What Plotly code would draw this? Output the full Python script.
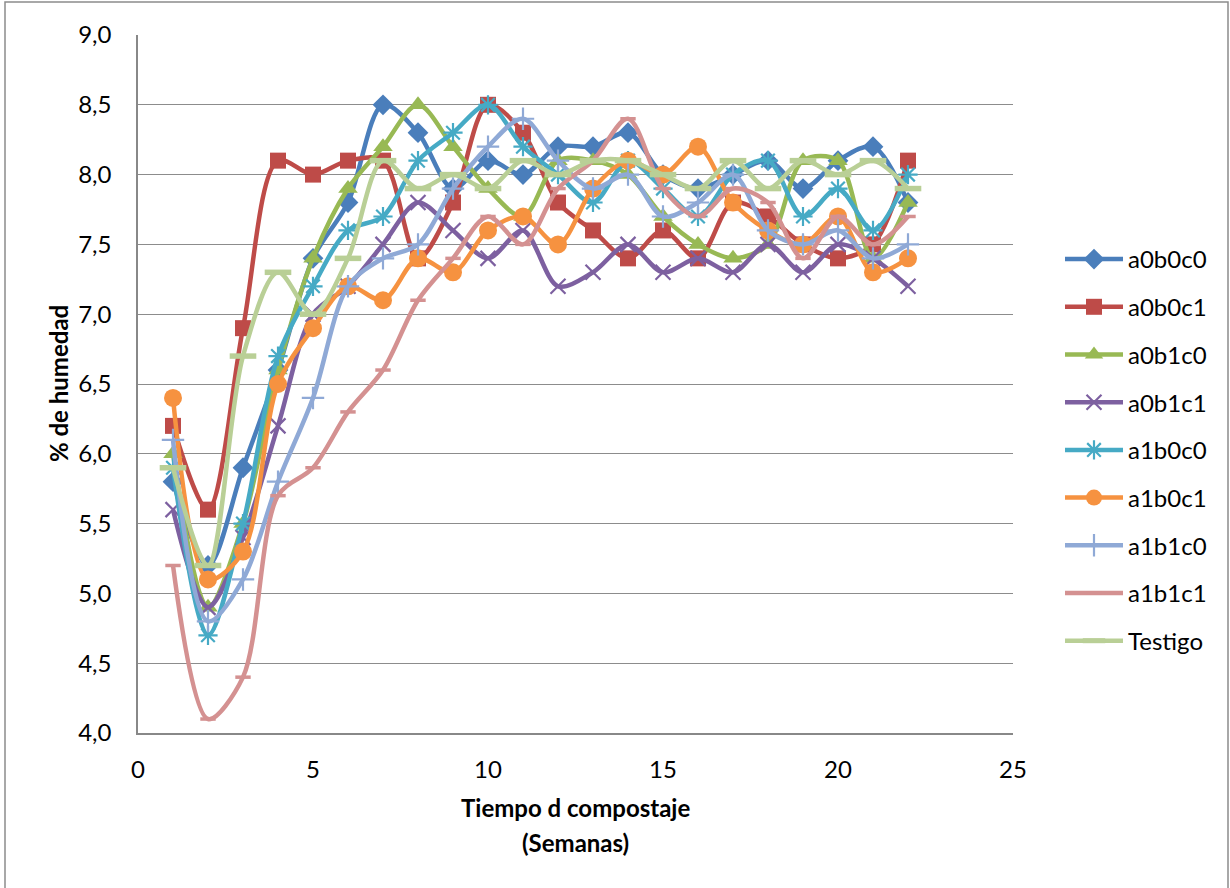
import plotly.graph_objects as go

weeks = list(range(1, 23))

a0b0c0 = [5.8, 5.2, 5.9, 6.6, 7.4, 7.8, 8.5, 8.3, 7.9, 8.1, 8.0, 8.2, 8.2, 8.3, 8.0, 7.9, 8.0, 8.1, 7.9, 8.1, 8.2, 7.8]
a0b0c1 = [6.2, 5.6, 6.9, 8.1, 8.0, 8.1, 8.1, 7.4, 7.8, 8.5, 8.3, 7.8, 7.6, 7.4, 7.6, 7.4, 7.8, 7.7, 7.5, 7.4, 7.5, 8.1]
a0b1c0 = [6.0, 4.9, 5.5, 6.6, 7.4, 7.9, 8.2, 8.5, 8.2, 7.9, 7.7, 8.1, 8.1, 8.0, 7.7, 7.5, 7.4, 7.5, 8.1, 8.1, 7.4, 7.8]
a0b1c1 = [5.6, 4.9, 5.4, 6.2, 7.0, 7.2, 7.5, 7.8, 7.6, 7.4, 7.6, 7.2, 7.3, 7.5, 7.3, 7.4, 7.3, 7.5, 7.3, 7.5, 7.4, 7.2]
a1b0c0 = [5.9, 4.7, 5.5, 6.7, 7.2, 7.6, 7.7, 8.1, 8.3, 8.5, 8.2, 8.0, 7.8, 8.1, 7.9, 7.7, 8.0, 8.1, 7.7, 7.9, 7.6, 8.0]
a1b0c1 = [6.4, 5.1, 5.3, 6.5, 6.9, 7.2, 7.1, 7.4, 7.3, 7.6, 7.7, 7.5, 7.9, 8.1, 8.0, 8.2, 7.8, 7.6, 7.5, 7.7, 7.3, 7.4]
a1b1c0 = [6.1, 4.8, 5.1, 5.8, 6.4, 7.2, 7.4, 7.5, 7.9, 8.2, 8.4, 8.1, 7.9, 8.0, 7.7, 7.8, 8.0, 7.6, 7.5, 7.6, 7.4, 7.5]
a1b1c1 = [5.2, 4.1, 4.4, 5.7, 5.9, 6.3, 6.6, 7.1, 7.4, 7.7, 7.5, 7.9, 8.1, 8.4, 7.9, 7.7, 7.9, 7.8, 7.4, 7.7, 7.5, 7.7]
testigo = [5.9, 5.2, 6.7, 7.3, 7.0, 7.4, 8.1, 7.9, 8.0, 7.9, 8.1, 8.0, 8.1, 8.1, 8.0, 7.9, 8.1, 7.9, 8.1, 8.0, 8.1, 7.9]

names = ["a0b0c0", "a0b0c1", "a0b1c0", "a0b1c1", "a1b0c0", "a1b0c1", "a1b1c0", "a1b1c1", "Testigo"]
series = [a0b0c0, a0b0c1, a0b1c0, a0b1c1, a1b0c0, a1b0c1, a1b1c0, a1b1c1, testigo]
colors = ["#4A7EBB", "#BE4B48", "#98B954", "#7D60A0", "#46AAC5", "#F69240", "#8FA9D6", "#D49191", "#B9CF96"]
markers = [
    dict(symbol="diamond", size=16),
    dict(symbol="square", size=16),
    dict(symbol="triangle-up", size=17),
    dict(symbol="x-thin-open", size=15, line=dict(width=2.2)),
    dict(symbol="asterisk-open", size=16, line=dict(width=2.2)),
    dict(symbol="circle", size=18),
    dict(symbol="cross-thin-open", size=16, line=dict(width=2.2)),
    dict(symbol="line-ew-open", size=11, line=dict(width=3.5)),
    dict(symbol="line-ew-open", size=19, line=dict(width=5.5)),
]

FONT = "Lato, 'Open Sans', sans-serif"
FS = 24

fig = go.Figure()
for n, ys, c, m in zip(names, series, colors, markers):
    mk = dict(m)
    mk["color"] = c
    if "line" in mk:
        mk["line"] = dict(mk["line"], color=c)
    fig.add_trace(go.Scatter(
        x=weeks, y=ys, name=n, mode="lines+markers",
        line=dict(color=c, width=4.5, shape="spline", smoothing=0.9),
        marker=mk, legendgroup=n,
    ))

L, R, T, B = 138, 1013, 35, 733
W, H = 1230, 888
pw, ph = R - L, B - T

def px(x):
    return (x - L) / pw

def py(y):
    return (B - y) / ph

fig.update_layout(
    width=W, height=H,
    margin=dict(l=L, r=W - R, t=T, b=H - B),
    paper_bgcolor="white", plot_bgcolor="white",
    separators=",.",
    font=dict(family=FONT, size=FS, color="black"),
    showlegend=True,
    legend=dict(
        x=px(1060), y=py(450), xanchor="left", yanchor="middle",
        font=dict(family=FONT, size=FS, color="black"),
        tracegroupgap=13.5, itemwidth=58, bgcolor="rgba(0,0,0,0)",
    ),
    xaxis=dict(
        range=[0, 25], dtick=5, tick0=0, showgrid=False, zeroline=False,
        showline=True, linecolor="#888888", linewidth=1.5,
        ticks="", tickfont=dict(family=FONT, size=FS), ticklabelstandoff=14,
    ),
    yaxis=dict(
        range=[4, 9], dtick=0.5, tick0=4, tickformat=".1f",
        showgrid=True, gridcolor="#8C8C8C", gridwidth=1.2, zeroline=False,
        showline=True, linecolor="#888888", linewidth=1.5,
        ticks="", tickfont=dict(family=FONT, size=FS), ticklabelstandoff=20,
    ),
    annotations=[
        dict(text="<b>% de humedad</b>", xref="paper", yref="paper",
             x=px(58), y=py(384), xanchor="center", yanchor="middle",
             textangle=-90, showarrow=False,
             font=dict(family=FONT, size=FS, color="black")),
        dict(text="<b>Tiempo d compostaje</b>", xref="paper", yref="paper",
             x=px(575), y=py(808), xanchor="center", yanchor="middle",
             showarrow=False, font=dict(family=FONT, size=FS, color="black")),
        dict(text="<b>(Semanas)</b>", xref="paper", yref="paper",
             x=px(575), y=py(842), xanchor="center", yanchor="middle",
             showarrow=False, font=dict(family=FONT, size=FS, color="black")),
    ],
    shapes=[
        dict(type="rect", xref="paper", yref="paper",
             x0=px(5), x1=px(1228), y0=py(900), y1=py(2),
             line=dict(color="#8C8C8C", width=1.5), fillcolor="rgba(0,0,0,0)",
             layer="below"),
    ],
)

fig.write_html("out.html")
